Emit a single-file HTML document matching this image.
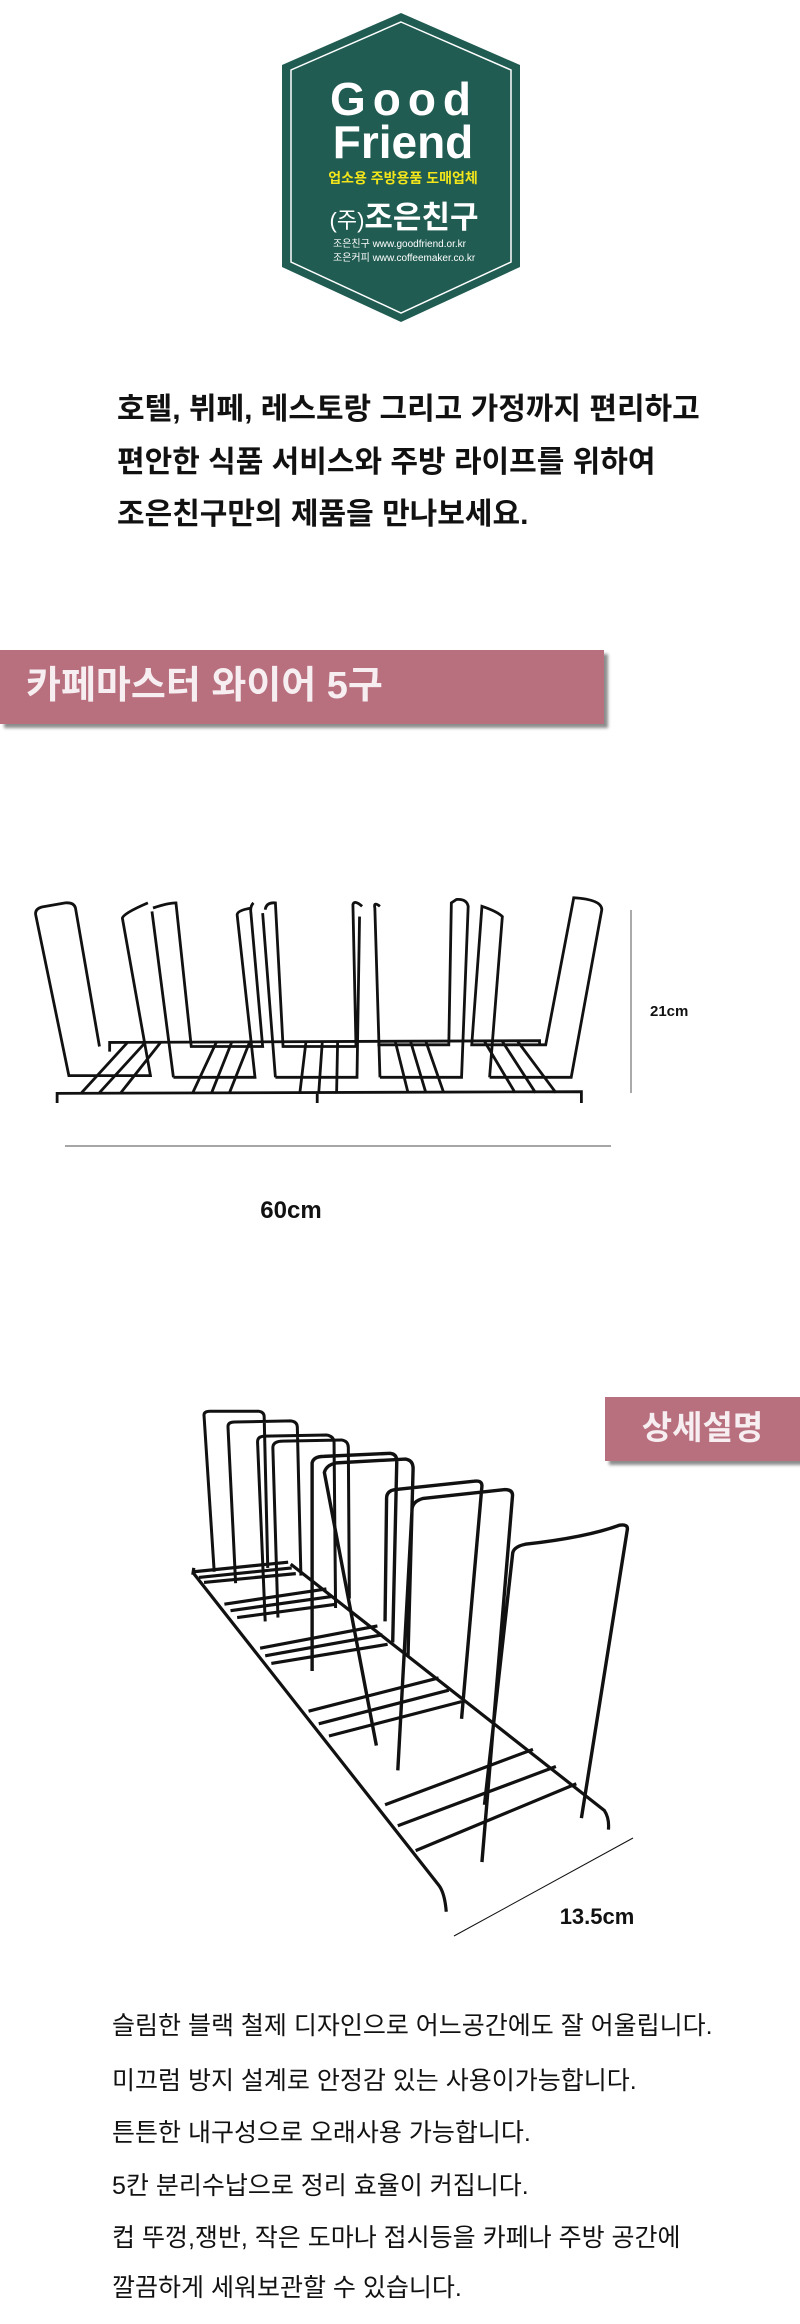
<!DOCTYPE html>
<html><head><meta charset="utf-8"><style>
body{margin:0;background:#fff;}
.page{position:relative;width:800px;height:2324px;overflow:hidden;background:#fff;font-family:"Liberation Sans","Noto Sans CJK KR",sans-serif;}
.abs{position:absolute;}
.intro{left:117px;font-size:30px;font-weight:bold;color:#111;white-space:nowrap;line-height:34px;}
.desc{left:112px;font-size:25px;color:#111;white-space:nowrap;line-height:30px;}
.banner{background:#b8707f;box-shadow:4px 4px 3px rgba(0,0,0,0.45);}
</style></head><body><div class="page">

<svg class="abs" style="left:0;top:0" width="800" height="330">
<polygon points="401,13 520,65 520,267 401,322 282,267 282,65" fill="#215c52"/>
<polygon points="401,22 511,70 511,262 401,313 291,262 291,70" fill="none" stroke="#fff" stroke-width="1.5"/>
<text x="404" y="115" text-anchor="middle" font-family="Liberation Sans" font-weight="bold" font-size="46" fill="#fff" letter-spacing="7">Good</text>
<text x="403" y="158" text-anchor="middle" font-family="Liberation Sans" font-weight="bold" font-size="46" fill="#fff">Friend</text>
<text x="403" y="183" text-anchor="middle" font-family="Liberation Sans,Noto Sans CJK KR,sans-serif" font-weight="bold" font-size="14" fill="#f2e51a">업소용 주방용품 도매업체</text>
<text x="404" y="228" text-anchor="middle" font-family="Liberation Sans,Noto Sans CJK KR,sans-serif" fill="#fff"><tspan font-size="22">(주)</tspan><tspan font-size="31" font-weight="bold">조은친구</tspan></text>
<text x="333" y="247" font-family="Liberation Sans,Noto Sans CJK KR,sans-serif" font-size="10" fill="#fff">조은친구  www.goodfriend.or.kr</text>
<text x="333" y="261" font-family="Liberation Sans,Noto Sans CJK KR,sans-serif" font-size="10" fill="#fff">조은커피  www.coffeemaker.co.kr</text>
</svg>

<div class="abs intro" style="top:393px">호텔, 뷔페, 레스토랑 그리고 가정까지 편리하고</div>
<div class="abs intro" style="top:446px">편안한 식품 서비스와 주방 라이프를 위하여</div>
<div class="abs intro" style="top:498px">조은친구만의 제품을 만나보세요.</div>

<div class="abs banner" style="left:0;top:650px;width:604px;height:74px;"></div>
<div class="abs" style="left:26px;top:664px;font-size:38px;font-weight:bold;color:#f6eef0;white-space:nowrap;line-height:44px;">카페마스터 와이어 5구</div>

<svg class="abs" style="left:0;top:0" width="800" height="2324">
<g transform="translate(0,855) scale(0.51,0.342)" fill="none" stroke="#111" stroke-width="2.8">
<path vector-effect="non-scaling-stroke" d="M215,575 L215,548 L1058,543 L1058,555"/>
<path vector-effect="non-scaling-stroke" d="M112,725 L112,697 L1140,692 L1140,725 M622,697 L622,725"/>
<path vector-effect="non-scaling-stroke" d="M195,560 L148,155 Q145,138 128,140 L82,152 Q68,158 70,175 L135,645 L295,645 L240,185 Q240,172 290,140"/>
<path vector-effect="non-scaling-stroke" d="M300,155 Q330,140 345,140 L375,560 L515,560 L492,170 Q490,150 497,140 M340,650 L298,165 M340,650 L500,650 L465,175 Q465,162 493,155"/>
<path vector-effect="non-scaling-stroke" d="M520,160 Q522,138 540,140 L555,560 L698,560 L692,145 Q695,130 710,150 M540,650 L515,170 M540,650 L700,650 L705,180"/>
<path vector-effect="non-scaling-stroke" d="M745,650 L735,155 Q732,135 745,150 M745,650 L905,650 L918,150 Q915,128 895,130 L885,140 L880,555 L740,555"/>
<path vector-effect="non-scaling-stroke" d="M960,650 L1120,650 L1180,160 Q1180,130 1125,125 L1070,555 L925,555 L945,150 Q975,165 985,180 L960,650"/>
<path vector-effect="non-scaling-stroke" d="M250,548 L160,695 M285,548 L195,695 M315,548 L237,695 M425,545 L378,695 M455,545 L415,695 M490,545 L450,695 M600,545 L588,695 M632,545 L625,695 M662,545 L660,695 M775,545 L800,695 M805,545 L835,695 M835,545 L870,695 M950,545 L1010,695 M985,545 L1050,695 M1015,545 L1090,695"/>
</g>
<line x1="631" y1="910" x2="631" y2="1093" stroke="#555" stroke-width="1"/>
<text x="650" y="1016" font-family="Liberation Sans" font-weight="bold" font-size="15" fill="#111">21cm</text>
<line x1="65" y1="1146" x2="611" y2="1146" stroke="#888" stroke-width="1.5"/>
<text x="291" y="1218" text-anchor="middle" font-family="Liberation Sans" font-weight="bold" font-size="24" fill="#111">60cm</text>

<g transform="translate(0,1354) scale(0.51,0.382)" fill="none" stroke="#111">
<path vector-effect="non-scaling-stroke" stroke-width="3.2" d="M380,575 L860,1390 Q872,1410 875,1460 M570,550 L1185,1195 Q1195,1215 1193,1245 M380,560 L378,578"/>
<path vector-effect="non-scaling-stroke" stroke-width="3.2" d="M380,570 L565,545 M390,585 L572,560 M400,598 L580,575 M440,655 L640,615 M452,672 L650,635 M465,690 L660,655 M510,770 L740,712 M520,790 L750,735 M532,810 L760,760 M605,935 L860,848 M625,968 L880,880 M645,1000 L905,910 M755,1180 L1045,1035 M780,1235 L1090,1080 M815,1300 L1130,1125"/>
<path vector-effect="non-scaling-stroke" stroke-width="3" d="M420,570 L400,160 Q400,150 412,150 L508,150 Q518,152 518,165 L525,560 M462,600 L447,190 Q447,178 460,178 L570,175 Q583,177 583,192 L590,580 M520,700 L505,230 Q505,215 520,215 L640,212 Q655,215 655,232 L658,665 M545,690 L535,245 Q535,228 555,228 L670,225 Q683,228 683,245 L685,640"/>
<path vector-effect="non-scaling-stroke" stroke-width="3.4" d="M612,830 L612,285 Q615,268 635,268 L765,260 Q778,262 778,280 L770,755 M738,1025 L636,310 Q640,290 660,285 L795,275 Q810,278 810,300 L800,790 M905,955 L945,345 Q945,330 930,333 L775,355 Q758,358 758,378 L755,700 M945,1330 L1005,370 Q1005,355 990,355 L830,378 Q810,385 808,405 L780,1090 M1140,1215 L1230,460 Q1232,445 1215,448 Q1150,480 1030,498 Q1005,505 1005,525 L950,1180"/>
</g>
<line x1="454" y1="1936" x2="633" y2="1838" stroke="#111" stroke-width="1"/>
<text x="597" y="1924" text-anchor="middle" font-family="Liberation Sans" font-weight="bold" font-size="22" fill="#111">13.5cm</text>
</svg>

<div class="abs banner" style="left:605px;top:1397px;width:200px;height:64px;"></div>
<div class="abs" style="left:605px;top:1408px;width:195px;text-align:center;font-size:33px;font-weight:bold;color:#f6eef0;line-height:40px;">상세설명</div>

<div class="abs desc" style="top:2011px">슬림한 블랙 철제 디자인으로  어느공간에도 잘 어울립니다.</div>
<div class="abs desc" style="top:2066px">미끄럼 방지 설계로 안정감 있는 사용이가능합니다.</div>
<div class="abs desc" style="top:2118px">튼튼한 내구성으로 오래사용 가능합니다.</div>
<div class="abs desc" style="top:2171px">5칸 분리수납으로 정리 효율이 커집니다.</div>
<div class="abs desc" style="top:2223px">컵 뚜껑,쟁반, 작은 도마나 접시등을 카페나 주방 공간에</div>
<div class="abs desc" style="top:2273px">깔끔하게 세워보관할 수 있습니다.</div>

</div></body></html>
